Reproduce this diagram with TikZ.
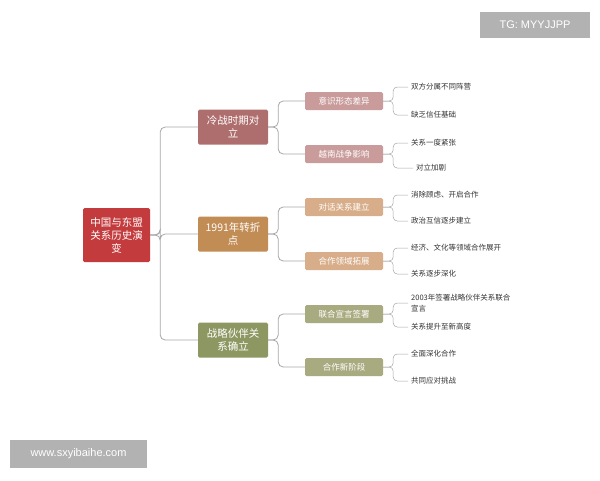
\documentclass[tikz,border=0pt]{standalone}
\usepackage{fontspec}
\newfontfamily\cjk{Noto Sans CJK SC}
\newfontfamily\lsans{Liberation Sans}
\begin{document}
\begin{tikzpicture}[x=1pt,y=-1pt,font=\cjk,
  box/.style={rounded corners=1.5pt,text=white,align=center,inner sep=2pt},
  l1/.style={box,minimum width=70pt,minimum height=35pt,font=\cjk\fontsize{10.5}{13}\selectfont},
  l2/.style={box,minimum width=78pt,minimum height=18pt,font=\cjk\fontsize{8.5}{10}\selectfont},
  leaf/.style={anchor=west,font=\cjk\fontsize{7.5}{11}\selectfont,text=black!80,align=left,inner sep=1pt},
  link/.style={draw=gray!70,line width=0.8pt,rounded corners=5pt},
  wm/.style={fill=gray!60,text=white,font=\lsans\fontsize{11}{13}\selectfont,inner sep=0pt}]
\useasboundingbox (0,0) rectangle (600,480);
\definecolor{rootc}{HTML}{C33B3D}
\definecolor{ra}{HTML}{AF6E6E}\definecolor{rb}{HTML}{C99B9B}
\definecolor{oa}{HTML}{C28C55}\definecolor{ob}{HTML}{D8AE8A}
\definecolor{ga}{HTML}{8D9762}\definecolor{gb}{HTML}{A8AA80}
\node[box,fill=rootc,minimum width=67pt,minimum height=54pt,font=\cjk\fontsize{10.5}{13}\selectfont] (root) at (116.5,235) {中国与东盟\\关系历史演\\变};
\node[l1,fill=ra] (a) at (233,127) {冷战时期对\\立};
\node[l1,fill=oa] (b) at (233,234) {1991年转折\\点};
\node[l1,fill=ga] (c) at (233,340) {战略伙伴关\\系确立};
\node[l2,fill=rb] (a1) at (344,101) {意识形态差异};
\node[l2,fill=rb] (a2) at (344,154) {越南战争影响};
\node[l2,fill=ob] (b1) at (344,207) {对话关系建立};
\node[l2,fill=ob] (b2) at (344,261) {合作领域拓展};
\node[l2,fill=gb] (c1) at (344,314) {联合宣言签署};
\node[l2,fill=gb] (c2) at (344,367) {合作新阶段};
\foreach \p/\q in {root/a,root/b,root/c,a/a1,a/a2,b/b1,b/b2,c/c1,c/c2}
  \draw[link] (\p.east) -- ++(10,0) |- (\q.west);
\node[leaf] (a1x) at (410,87) {双方分属不同阵营};
\node[leaf] (a1y) at (410,115) {缺乏信任基础};
\node[leaf] (a2x) at (410,143) {关系一度紧张};
\node[leaf] (a2y) at (415,168) {对立加剧};
\node[leaf] (b1x) at (410,195) {消除顾虑、开启合作};
\node[leaf] (b1y) at (410,221) {政治互信逐步建立};
\node[leaf] (b2x) at (410,248) {经济、文化等领域合作展开};
\node[leaf] (b2y) at (410,274) {关系逐步深化};
\node[leaf] (c1x) at (410,303) {2003年签署战略伙伴关系联合\\宣言};
\node[leaf] (c1y) at (410,327) {关系提升至新高度};
\node[leaf] (c2x) at (410,354) {全面深化合作};
\node[leaf] (c2y) at (410,381) {共同应对挑战};
\foreach \p/\q in {a1/a1x,a1/a1y,a2/a2x,a2/a2y,b1/b1x,b1/b1y,b2/b2x,b2/b2y,c1/c1x,c1/c1y,c2/c2x,c2/c2y}
  \draw[link,line width=0.5pt,rounded corners=4pt] (\p.east) -- ++(10,0) |- ([xshift=-2pt]\q.west);
\node[wm,minimum width=110pt,minimum height=26pt] (w1) at (535,25) {TG: MYYJJPP};
\node[wm,minimum width=137pt,minimum height=28pt] (w2) at (78.5,454) {www.sxyibaihe.com};
\end{tikzpicture}
\end{document}
